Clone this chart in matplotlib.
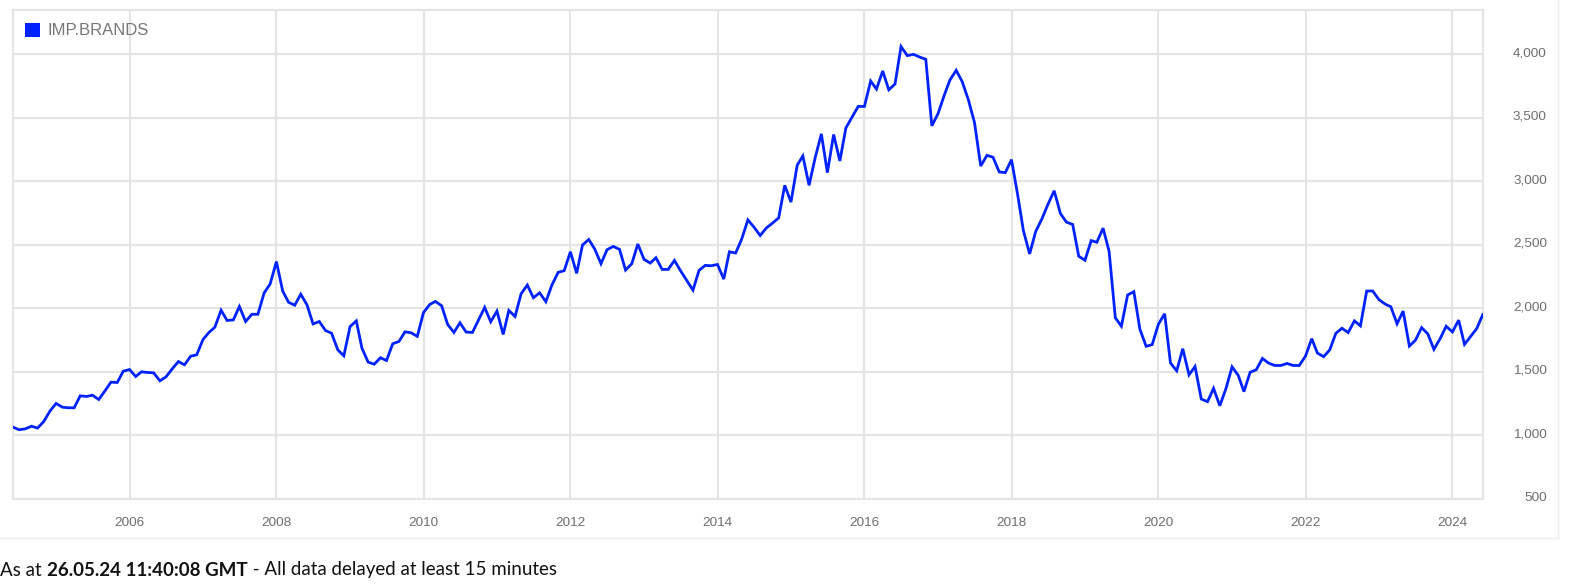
import matplotlib
matplotlib.use("Agg")
import matplotlib.pyplot as plt
import pandas as pd
from matplotlib.patches import Patch
from matplotlib.lines import Line2D
from matplotlib.ticker import FuncFormatter
from matplotlib.transforms import ScaledTranslation

# ---------------- data ----------------
series_name = "IMP.BRANDS"
v2004 = [1066, 1045, 1052, 1073, 1058, 1110, 1191]  # Jun-Dec
v2005 = [1252, 1223, 1218, 1218, 1312, 1307, 1317, 1283, 1351, 1420, 1417, 1506]
v2006 = [1519, 1464, 1501, 1496, 1493, 1430, 1461, 1524, 1582, 1556, 1624, 1635]
v2007 = [1755, 1813, 1852, 1986, 1905, 1910, 2015, 1897, 1954, 1954, 2122, 2193]
v2008 = [2369, 2138, 2049, 2025, 2112, 2028, 1878, 1897, 1826, 1805, 1674, 1627]
v2009 = [1857, 1902, 1687, 1577, 1561, 1612, 1590, 1722, 1740, 1816, 1808, 1780]
v2010 = [1968, 2031, 2055, 2021, 1874, 1811, 1887, 1814, 1811, 1908, 2008, 1895]
v2011 = [1979, 1795, 1984, 1937, 2116, 2184, 2084, 2123, 2053, 2184, 2284, 2297]
v2012 = [2446, 2276, 2499, 2543, 2467, 2352, 2462, 2488, 2465, 2302, 2352, 2507]
v2013 = [2386, 2357, 2399, 2307, 2307, 2378, 2297, 2220, 2144, 2299, 2339, 2336]
v2014 = [2346, 2231, 2446, 2436, 2545, 2697, 2640, 2574, 2634, 2671, 2713, 2969]
v2015 = [2837, 3127, 3200, 2969, 3184, 3374, 3069, 3369, 3161, 3421, 3506, 3590]
v2016 = [3590, 3790, 3727, 3869, 3721, 3766, 4061, 3990, 4000, 3979, 3961, 3437]
v2017 = [3534, 3679, 3798, 3874, 3785, 3640, 3463, 3121, 3205, 3190, 3074, 3069]
v2018 = [3171, 2890, 2613, 2429, 2605, 2705, 2819, 2926, 2747, 2679, 2661, 2411]
v2019 = [2379, 2534, 2521, 2632, 2449, 1926, 1860, 2106, 2132, 1836, 1702, 1715]
v2020 = [1876, 1958, 1570, 1509, 1683, 1477, 1543, 1287, 1266, 1371, 1234, 1366]
v2021 = [1540, 1472, 1345, 1498, 1517, 1607, 1570, 1551, 1551, 1567, 1551, 1551]
v2022 = [1625, 1762, 1649, 1620, 1673, 1805, 1844, 1810, 1902, 1863, 2137, 2137]
v2023 = [2069, 2034, 2013, 1879, 1979, 1704, 1749, 1849, 1799, 1678, 1762, 1860]
v2024 = [1815, 1908, 1717, 1781, 1842, 1952]  # Jan-May + last quote
last_date = "2024-05-31"

y_ticks = [500, 1000, 1500, 2000, 2500, 3000, 3500, 4000]
x_tick_years = [2006, 2008, 2010, 2012, 2014, 2016, 2018, 2020, 2022, 2024]
footer_parts = [("As at ", "normal"), ("26.05.24 11:40:08 GMT", "bold"),
                (" - All data delayed at least 15 minutes", "normal")]

values = (v2004 + v2005 + v2006 + v2007 + v2008 + v2009 + v2010 + v2011 + v2012
          + v2013 + v2014 + v2015 + v2016 + v2017 + v2018 + v2019 + v2020 + v2021
          + v2022 + v2023 + v2024)
dates = list(pd.date_range("2004-06-01", "2024-05-01", freq="MS")) + [pd.Timestamp(last_date)]

# ---------------- style ----------------
LINE = "#0022ff"
GRID = "#e4e4e4"
TXT = "#6e6e6e"
FONT = ["Liberation Sans", "DejaVu Sans"]

W, H = 1571, 584
fig = plt.figure(figsize=(W / 100, H / 100), dpi=100)
fig.patch.set_facecolor("white")
ax = fig.add_axes([13 / W, 1 - 499 / H, 1470 / W, 489 / H])

ax.plot(dates, values, color=LINE, lw=2.0, solid_joinstyle="miter", zorder=3)

ax.set_xlim(pd.Timestamp("2004-06-01"), pd.Timestamp("2024-06-01"))
ax.set_ylim(500, 4349)

ax.set_yticks(y_ticks)
ax.yaxis.tick_right()
ax.yaxis.set_major_formatter(FuncFormatter(lambda v, p: f"{v:,.0f}"))
ax.tick_params(axis="y", length=0, pad=46, labelsize=9.7, labelcolor=TXT)
for tick in ax.yaxis.get_major_ticks():
    lbl = tick.label2
    lbl.set_horizontalalignment("right")
    lbl.set_fontfamily(FONT)
    lbl.set_transform(lbl.get_transform() + ScaledTranslation(0, 2.5 / 100, fig.dpi_scale_trans))

ax.set_xticks([pd.Timestamp(f"{y}-01-01") for y in x_tick_years])
ax.set_xticklabels([str(y) for y in x_tick_years])
ax.tick_params(axis="x", length=0, pad=13, labelsize=9.7, labelcolor=TXT)
for lbl in ax.get_xticklabels():
    lbl.set_fontfamily(FONT)

ax.grid(True, color=GRID, lw=1.5, zorder=0)
for s in ax.spines.values():
    s.set_color(GRID)
    s.set_linewidth(1.5)

ax.legend(handles=[Patch(facecolor=LINE, edgecolor="none", label=series_name)],
          loc="upper left", bbox_to_anchor=(11.5 / 1470, 1 - 12.5 / 489),
          frameon=False, borderpad=0, borderaxespad=0,
          handlelength=0.95, handleheight=0.95, handletextpad=0.42,
          prop={"family": FONT, "size": 12}, labelcolor="#777777")

# outer panel frame
fig.add_artist(Line2D([1558 / W, 1558 / W], [1 - 538 / H, 1], transform=fig.transFigure,
                      color="#eeeeee", lw=1))
fig.add_artist(Line2D([0, 1558 / W], [1 - 538 / H, 1 - 538 / H], transform=fig.transFigure,
                      color="#eeeeee", lw=1))

# footer with bold segment
fig.canvas.draw()
renderer = fig.canvas.get_renderer()
x_px = 0.5
y_fig = 1 - 570 / H
for txt, wt in footer_parts:
    t = fig.text(x_px / W, y_fig, txt, fontsize=13.5, fontweight=wt, color="#111111",
                 family=["Lato", "DejaVu Sans"], va="center", ha="left")
    bb = t.get_window_extent(renderer=renderer)
    x_px += bb.width

fig.savefig("out.png", dpi=100, facecolor="white")
